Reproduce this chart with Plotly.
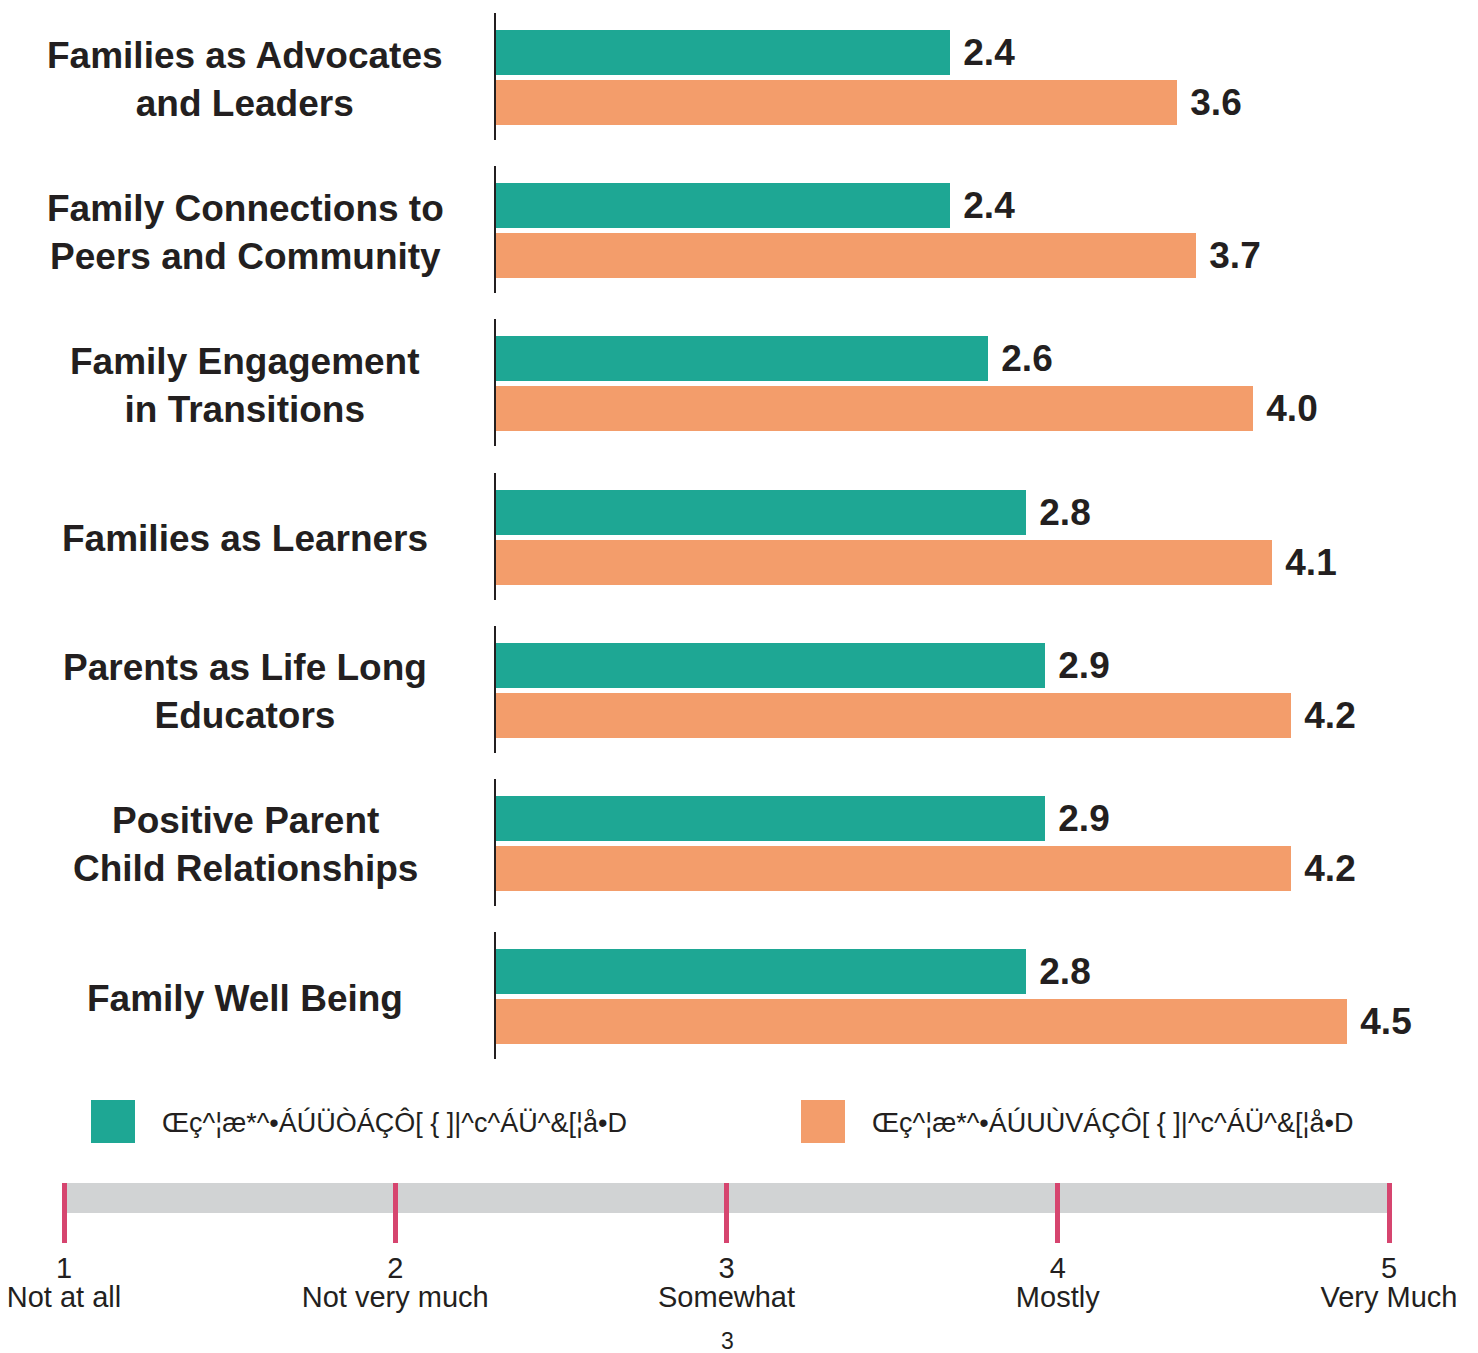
import plotly.graph_objects as go

# data
categories = [
    "Families as Advocates<br>and Leaders",
    "Family Connections to<br>Peers and Community",
    "Family Engagement<br>in Transitions",
    "Families as Learners",
    "Parents as Life Long<br>Educators",
    "Positive Parent<br>Child Relationships",
    "Family Well Being",
]
pre_scores = [2.4, 2.4, 2.6, 2.8, 2.9, 2.9, 2.8]
post_scores = [3.6, 3.7, 4.0, 4.1, 4.2, 4.2, 4.5]
legend_labels = [
    "Œç^¦æ*^•ÁÚÜÒÁÇÔ[ { ]|^c^ÁÜ^&[¦å•D",
    "Œç^¦æ*^•ÁÚUÙVÁÇÔ[ { ]|^c^ÁÜ^&[¦å•D",
]
scale_values = [1, 2, 3, 4, 5]
scale_words = ["Not at all", "Not very much", "Somewhat", "Mostly", "Very Much"]
page_number = "3"

# styling
W, H = 1478, 1353
OFF = 8  # page body margin
TEAL = "#1EA794"
ORANGE = "#F39D6B"
DARK = "#231F20"
GREY = "#D1D3D4"
PINK = "#D6456F"
FONT = "Liberation Sans, Arial, sans-serif"

X0_PX, X1_PX = 496, 1442          # value 0 .. 5
ROW_TOP, ROW_STEP, ROW_H = 13, 153.17, 127


def px_(x):
    return (x - OFF) / W


def py(y):
    return 1 - (y - OFF) / H


fig = go.Figure()
layout = dict(
    width=W, height=H, margin=dict(l=0, r=0, t=0, b=0),
    paper_bgcolor="white", plot_bgcolor="white", showlegend=False,
    font=dict(family=FONT, color=DARK), bargap=0,
)
annotations = []

for i, (cat, pre, post) in enumerate(zip(categories, pre_scores, post_scores)):
    n = "" if i == 0 else str(i + 1)
    top = ROW_TOP + i * ROW_STEP
    fig.add_trace(go.Bar(
        x=[pre, post], y=[1, 0], orientation="h", width=0.9,
        marker=dict(color=[TEAL, ORANGE], line=dict(width=0)),
        text=[f"\u00a0{pre:.1f}", f"\u00a0{post:.1f}"], textposition="outside",
        textfont=dict(size=37, color=DARK, family=FONT, weight="bold"),
        constraintext="none", cliponaxis=False,
        xaxis="x" + n, yaxis="y" + n, hoverinfo="skip",
    ))
    layout["xaxis" + n] = dict(
        domain=[px_(X0_PX), px_(X1_PX)], range=[0, 5], visible=False,
        anchor="y" + n, fixedrange=True,
    )
    layout["yaxis" + n] = dict(
        domain=[py(top + ROW_H), py(top)], range=[-0.75, 1.79],
        showline=True, linecolor=DARK, linewidth=2, showticklabels=False,
        showgrid=False, zeroline=False, ticks="", anchor="x" + n,
    )
    annotations.append(dict(
        text=f"<b>{cat}</b>", xref="paper", yref=f"y{n} domain",
        x=px_(245), y=0.48, xanchor="center", yanchor="middle",
        showarrow=False, align="center", font=dict(size=37, color=DARK),
    ))

# rating scale key
s_min, s_max = scale_values[0], scale_values[-1]
px_per = (1389 - 64) / (s_max - s_min)
s_range = [s_min - (64 - OFF) / px_per, s_min + (W + OFF - 64) / px_per]
fig.add_trace(go.Bar(
    x=[s_max - s_min], base=[s_min], y=[1.5], width=1, orientation="h",
    marker=dict(color=GREY, line=dict(width=0)),
    xaxis="x8", yaxis="y8", hoverinfo="skip",
))
layout["xaxis8"] = dict(
    domain=[0, 1], range=s_range, anchor="y8",
    tickvals=scale_values, ticktext=[str(v) for v in scale_values],
    ticks="inside", ticklen=60, tickwidth=5, tickcolor=PINK,
    showline=False, showgrid=False, zeroline=False, ticklabelstandoff=5,
    ticklabeloverflow="allow",
    tickfont=dict(size=29, color=DARK, family=FONT),
)
layout["yaxis8"] = dict(
    domain=[py(1243), py(1183)], range=[0, 2], visible=False, anchor="x8",
)
layout["xaxis9"] = dict(
    overlaying="x8", range=s_range, anchor="free", position=py(1277),
    tickvals=scale_values, ticktext=scale_words, ticks="",
    showline=False, showgrid=False, zeroline=False,
    ticklabeloverflow="allow",
    tickfont=dict(size=29, color=DARK, family=FONT),
)
fig.add_trace(go.Scatter(x=scale_values, y=[None] * 5, xaxis="x9", yaxis="y8",
                         hoverinfo="skip", mode="markers"))

# legend key
shapes = []
for sx, tx, col, lab in [(91, 160, TEAL, legend_labels[0]), (801, 870, ORANGE, legend_labels[1])]:
    shapes.append(dict(type="rect", xref="paper", yref="paper",
                       x0=px_(sx), x1=px_(sx + 44), y0=py(1143), y1=py(1100),
                       fillcolor=col, line=dict(width=0)))
    annotations.append(dict(text=lab, xref="paper", yref="paper", x=px_(tx), y=py(1122),
                            xanchor="left", yanchor="middle", showarrow=False,
                            font=dict(size=27, color=DARK)))

annotations.append(dict(text=page_number, xref="paper", yref="paper", x=px_(727), y=py(1341),
                        xanchor="center", yanchor="middle", showarrow=False,
                        font=dict(size=23, color=DARK)))

layout["annotations"] = annotations
layout["shapes"] = shapes
fig.update_layout(**layout)
fig.write_html("out.html")
